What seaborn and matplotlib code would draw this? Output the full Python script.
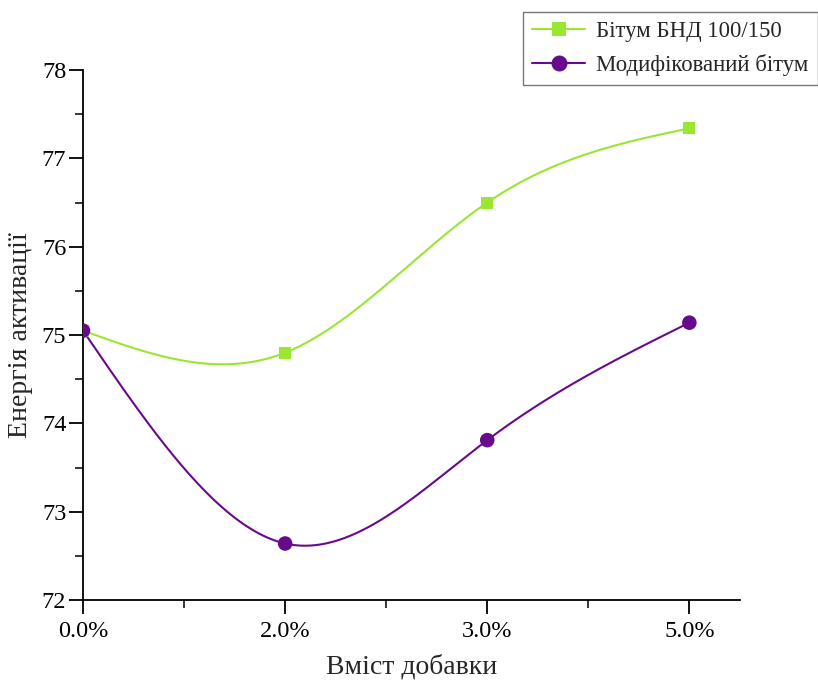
import numpy as np
import pandas as pd
import matplotlib
matplotlib.use("Agg")
import matplotlib.pyplot as plt
from matplotlib.lines import Line2D
from matplotlib.ticker import MultipleLocator
import seaborn as sns

# Additive content categories and activation energy values
categories = ["0.0%", "2.0%", "3.0%", "5.0%"]
base_bitumen = [75.05, 74.80, 76.50, 77.34]
modified_bitumen = [75.05, 72.64, 73.81, 75.14]
series_names = ["Бітум БНД 100/150", "Модифікований бітум"]
colors = ["#99e633", "#680a8c"]
markers = ["s", "o"]


def natural_spline(x, y, n=300):
    """Natural cubic spline through (x, y), evaluated on a dense grid."""
    x = np.asarray(x, float)
    y = np.asarray(y, float)
    k = len(x)
    h = np.diff(x)
    A = np.zeros((k, k))
    b = np.zeros(k)
    A[0, 0] = A[-1, -1] = 1.0
    for i in range(1, k - 1):
        A[i, i - 1] = h[i - 1]
        A[i, i] = 2 * (h[i - 1] + h[i])
        A[i, i + 1] = h[i]
        b[i] = 6 * ((y[i + 1] - y[i]) / h[i] - (y[i] - y[i - 1]) / h[i - 1])
    M = np.linalg.solve(A, b)
    xs = np.linspace(x[0], x[-1], n)
    ys = np.empty_like(xs)
    for j, xv in enumerate(xs):
        i = min(np.searchsorted(x, xv, side="right") - 1, k - 2)
        hi = h[i]
        a = (x[i + 1] - xv) / hi
        c = (xv - x[i]) / hi
        ys[j] = (M[i] * (x[i + 1] - xv) ** 3 + M[i + 1] * (xv - x[i]) ** 3) / (6 * hi) \
            + (y[i] - M[i] * hi ** 2 / 6) * a + (y[i + 1] - M[i + 1] * hi ** 2 / 6) * c
    return xs, ys


sns.set_theme(style="ticks")
plt.rcParams["font.family"] = ["Liberation Serif", "DejaVu Serif"]

fig = plt.figure(figsize=(8.18, 6.8), dpi=100)
ax = fig.add_axes([0.1015, 0.1176, 0.803, 0.7794])

pos = np.arange(len(categories))
points = pd.DataFrame({
    "pos": np.tile(pos, 2),
    "value": base_bitumen + modified_bitumen,
    "series": np.repeat(series_names, len(categories)),
})

curves = []
for name, vals in zip(series_names, [base_bitumen, modified_bitumen]):
    xs, ys = natural_spline(pos, vals)
    curves.append(pd.DataFrame({"pos": xs, "value": ys, "series": name}))
curves = pd.concat(curves, ignore_index=True)

palette = dict(zip(series_names, colors))
sns.lineplot(data=curves, x="pos", y="value", hue="series", palette=palette,
             linewidth=1.5, legend=False, ax=ax, sort=False, estimator=None)
for name, mk, size in zip(series_names, markers, [75, 110]):
    sub = points[points["series"] == name]
    sns.scatterplot(data=sub, x="pos", y="value", color=palette[name], marker=mk,
                    s=size, edgecolor="none", legend=False, ax=ax, zorder=3)

ax.set_xlim(0, 3.25)
ax.set_ylim(72, 78)
ax.set_xticks(pos)
ax.set_xticklabels(categories)
ax.xaxis.set_minor_locator(MultipleLocator(0.5))
ax.yaxis.set_major_locator(MultipleLocator(1))
ax.yaxis.set_minor_locator(MultipleLocator(0.5))
ax.tick_params(axis="both", which="major", direction="out", length=10, width=1.3,
               labelsize=17.5, colors="black")
ax.tick_params(axis="x", which="major", pad=5)
ax.tick_params(axis="y", which="major", pad=2)
ax.tick_params(axis="both", which="minor", direction="out", length=6, width=1.3)
for side in ["top", "right"]:
    ax.spines[side].set_visible(False)
for side in ["left", "bottom"]:
    ax.spines[side].set_linewidth(1.3)
    ax.spines[side].set_color("black")

ax.set_xlabel("Вміст добавки", fontsize=20, labelpad=9)
ax.set_ylabel("Енергія активації", fontsize=20)
ax.yaxis.set_label_coords(-0.076, 0.5)

handles = [Line2D([0], [0], color=c, marker=m, markersize=ms, linewidth=1.5,
                  markeredgewidth=0)
           for c, m, ms in zip(colors, markers, [10, 11.5])]
leg = fig.legend(handles, series_names, loc="upper right",
                 bbox_to_anchor=(1.0, 0.983), fontsize=16.4, frameon=True,
                 fancybox=False, handlelength=2.3, borderpad=0.42,
                 labelspacing=0.5, handletextpad=0.5, borderaxespad=0)
leg.get_frame().set_edgecolor("#555555")
leg.get_frame().set_linewidth(1.0)

fig.savefig("out.png", dpi=100)
